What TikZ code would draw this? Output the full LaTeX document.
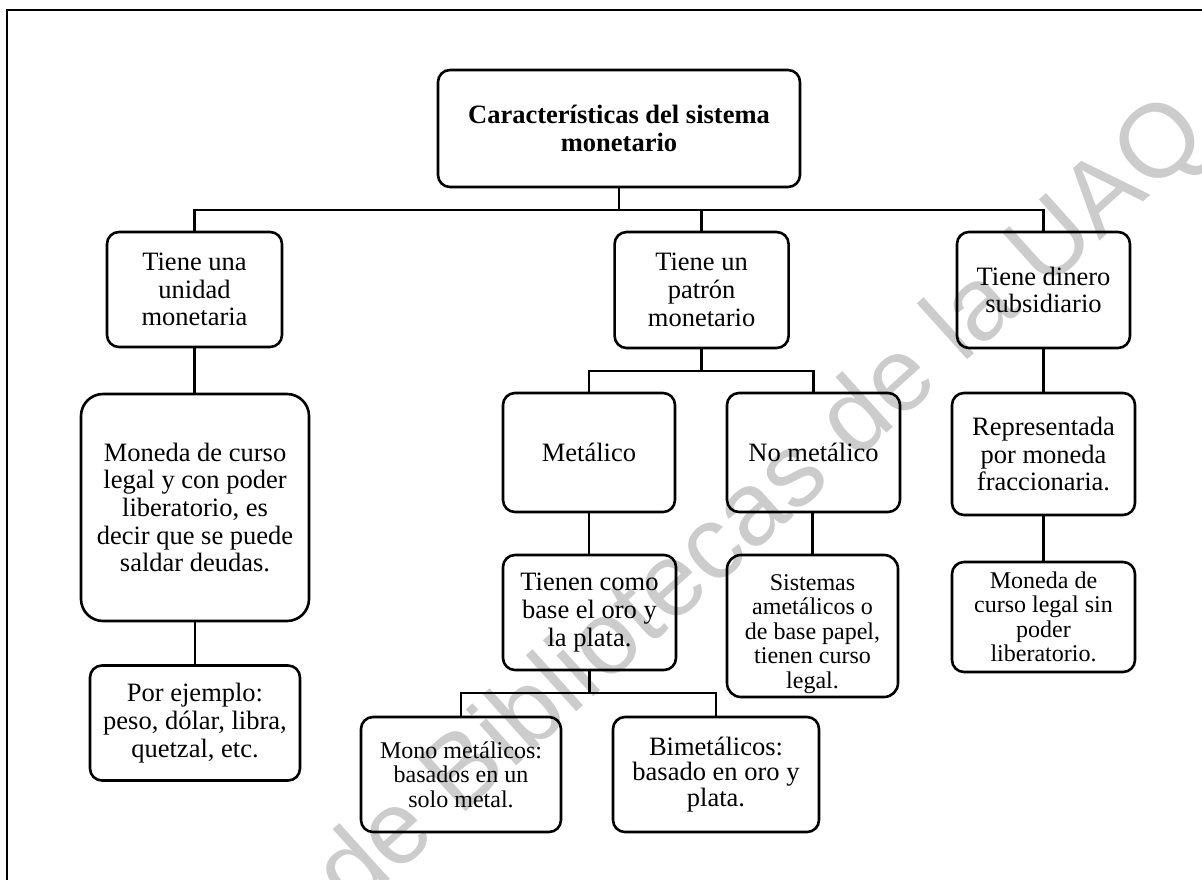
\documentclass[tikz,border=0pt]{standalone}
\usepackage{fontspec}
\setmainfont{Liberation Serif}
\newfontfamily\wmfont{Liberation Sans}
\begin{document}
\begin{tikzpicture}[x=1pt,y=-1pt,
  box/.style={draw, line width=2.6pt, rounded corners=12pt, align=center,
    inner sep=0pt, font=\fontsize{26.5}{27.7}\selectfont},
  small/.style={font=\fontsize{24}{24.5}\selectfont},
  bigtight/.style={font=\fontsize{26.5}{25.8}\selectfont},
  link/.style={line width=2.6pt, line cap=rect}]
\useasboundingbox (0,0) rectangle (1202,880);
\clip (0,0) rectangle (1202,880);

% watermark behind everything
\node[rotate=42, anchor=base east, text=black!20, inner sep=0pt,
  font=\wmfont\fontsize{104}{104}\selectfont] (wm) at (1212,140)
  {Dirección General de Bibliotecas de la UAQ};

% outer frame
\draw[line width=2.8pt] (7,10) rectangle (1225,905);

% boxes
\node[box, minimum width=362pt, minimum height=117pt] (root) at (619,128.5)
  {\textbf{Características del sistema}\\\textbf{monetario}};
\node[box, minimum width=175pt, minimum height=115pt] (unidad) at (194.5,289.5)
  {Tiene una\\unidad\\monetaria};
\node[box, minimum width=174pt, minimum height=116pt] (patron) at (701.6,290)
  {Tiene un\\patrón\\monetario};
\node[box, minimum width=173pt, minimum height=116pt] (subsid) at (1043.5,290)
  {Tiene dinero\\subsidiario};
\node[box, rounded corners=22pt, minimum width=228pt, minimum height=227pt] (moneda) at (195,507.5)
  {Moneda de curso\\legal y con poder\\liberatorio, es\\decir que se puede\\saldar deudas.};
\node[box, minimum width=210pt, minimum height=115pt] (ejemplo) at (195,723)
  {Por ejemplo:\\peso, dólar, libra,\\quetzal, etc.};
\node[box, minimum width=172pt, minimum height=119pt] (metal) at (589,452.5)
  {Metálico};
\node[box, minimum width=173pt, minimum height=119pt] (nometal) at (813.5,452.5)
  {No metálico};
\node[box, minimum width=183pt, minimum height=122pt] (repres) at (1043.5,454)
  {Representada\\por moneda\\fraccionaria.};
\node[box, minimum width=173pt, minimum height=115pt] (base) at (589.5,612.5)
  {Tienen como\\base el oro y\\la plata.};
\node[box, rounded corners=14pt, minimum width=171pt, minimum height=142pt] (sistemas) at (812.5,626) {};
\node[align=center, inner sep=0pt, small] (sistemastxt) at ([yshift=-8pt]sistemas.center)
  {Sistemas\\ametálicos o\\de base papel,\\tienen curso\\legal.};
\node[box, small, minimum width=183pt, minimum height=110pt] (sinpoder) at (1043.5,617)
  {Moneda de\\curso legal sin\\poder\\liberatorio.};
\node[box, small, minimum width=200pt, minimum height=115pt] (mono) at (461,774.5)
  {Mono metálicos:\\basados en un\\solo metal.};
\node[box, bigtight, minimum width=206pt, minimum height=115pt] (bimet) at (716,774.5)
  {Bimetálicos:\\basado en oro y\\plata.};

% connectors
\coordinate (bus1) at (619,210);
\draw[link] (root.south) -- (bus1);
\draw[link] (unidad.north) |- (bus1) -| (subsid.north);
\draw[link] (patron.north) -- (patron.north |- bus1);

\draw[link] (unidad.south) -- (unidad.south |- moneda.north);
\draw[link] (moneda.south) -- (moneda.south |- ejemplo.north);

\coordinate (bus2) at (701.6,371);
\draw[link] (patron.south) -- (bus2);
\draw[link] (metal.north) |- (bus2) -| (nometal.north);

\draw[link] (metal.south) -- (metal.south |- base.north);
\draw[link] (sistemas.north |- nometal.south) -- (sistemas.north);

\coordinate (bus3) at (589,693);
\draw[link] (base.south) -- (base.south |- bus3);
\draw[link] (mono.north) |- (bus3) -| (bimet.north);

\draw[link] (subsid.south) -- (subsid.south |- repres.north);
\draw[link] (repres.south) -- (repres.south |- sinpoder.north);
\end{tikzpicture}
\end{document}
